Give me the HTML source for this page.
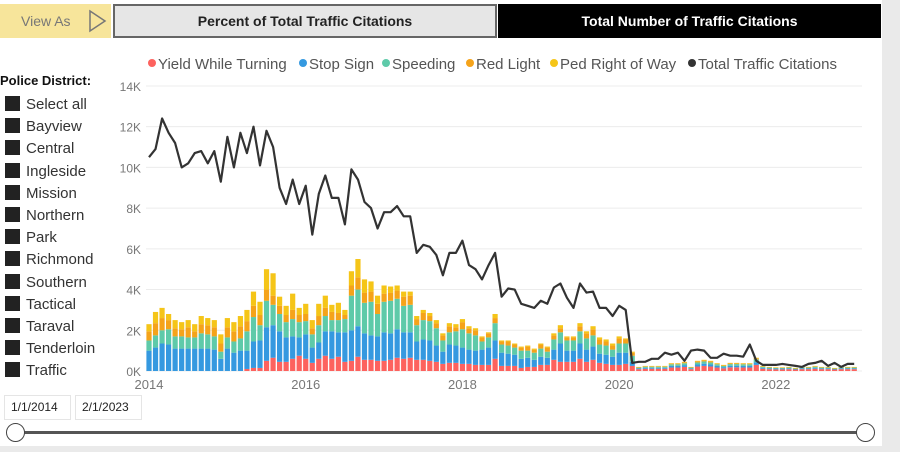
<!DOCTYPE html>
<html><head><meta charset="utf-8"><style>
body{margin:0;width:900px;height:452px;overflow:hidden;background:#fff;font-family:"Liberation Sans",sans-serif;position:relative}
.abs{position:absolute}
.li{position:absolute;left:5px;font-size:15px;color:#333;height:18px;line-height:18px}
.li span{display:inline-block;width:15px;height:15px;background:#222;vertical-align:-2px;margin-right:6px}
</style></head><body>
<div class="abs" style="left:882px;top:0;width:18px;height:452px;background:#eaeaea"></div>
<div class="abs" style="left:0;top:446px;width:900px;height:6px;background:#eaeaea"></div>
<div class="abs" style="left:0;top:4px;width:111px;height:34px;background:#f7e59b;color:#777;font-size:14px">
<span style="position:absolute;left:21px;top:9px">View As</span>
<svg style="position:absolute;left:88px;top:5px" width="20" height="24"><polygon points="2,2 17,12 2,22" fill="none" stroke="#777" stroke-width="1.5"/></svg></div>
<div class="abs" style="left:113px;top:4px;width:380px;height:30px;background:#e6e6e6;border:2px solid #666;text-align:center;line-height:30px;font-weight:bold;font-size:14px;color:#222">Percent of Total Traffic Citations</div>
<div class="abs" style="left:498px;top:4px;width:383px;height:34px;background:#000;text-align:center;line-height:34px;font-weight:bold;font-size:14px;color:#fff">Total Number of Traffic Citations</div>
<div class="abs" style="left:0;top:73px;font-size:13px;font-weight:bold;color:#111">Police District:</div>
<div id="slicer"></div>
<div class="abs" style="left:4px;top:395px;width:65px;height:23px;border:1px solid #e5e5e5;font-size:12px;line-height:23px;text-indent:6px;color:#222">1/1/2014</div>
<div class="abs" style="left:75px;top:395px;width:65px;height:23px;border:1px solid #e5e5e5;font-size:12px;line-height:23px;text-indent:6px;color:#222">2/1/2023</div>
<div class="abs" style="left:16px;top:431px;width:850px;height:3px;background:#555"></div>
<div class="abs" style="left:6px;top:423px;width:17px;height:17px;border:1.5px solid #444;border-radius:50%;background:#fff"></div>
<div class="abs" style="left:856px;top:423px;width:17px;height:17px;border:1.5px solid #444;border-radius:50%;background:#fff"></div>
<svg id="chart" class="abs" style="left:0;top:0" width="900" height="452"></svg>
<script>
const districts=["Select all","Bayview","Central","Ingleside","Mission","Northern","Park","Richmond","Southern","Tactical","Taraval","Tenderloin","Traffic"];
const seriesNames=["Yield While Turning","Stop Sign","Speeding","Red Light","Ped Right of Way","Total Traffic Citations"];
const seriesColors=["#fd625e","#3599e0","#5ecaa9","#f5a31a","#f5c518","#333333"];
const yTicks=[0,2,4,6,8,10,12,14];
const xTickLabels=["2014","2016","2018","2020","2022"];
const xTickIndex=[0,24,48,72,96];
const total=[10.5,10.9,12.4,11.7,11.2,10.0,10.2,10.7,10.8,10.2,10.8,9.3,11.5,10.0,11.7,10.7,12.0,10.1,11.8,11.0,9.0,8.2,9.4,8.2,9.1,6.7,8.7,9.6,8.5,8.5,7.2,9.9,9.4,8.3,8.0,7.0,7.8,7.8,8.1,7.6,7.6,5.8,6.2,6.1,5.7,4.7,5.8,5.8,6.4,5.2,5.0,4.5,5.2,5.8,3.65,4.05,4.0,3.3,3.2,3.1,3.45,3.3,4.1,4.3,3.6,3.1,4.3,3.85,3.9,3.1,3.1,2.7,3.2,3.0,0.4,0.45,0.45,0.6,0.6,0.9,0.8,0.9,0.5,1.0,1.05,1.0,0.65,0.65,0.85,0.75,0.75,0.7,1.3,0.5,0.3,0.3,0.3,0.35,0.3,0.25,0.2,0.35,0.4,0.5,0.25,0.4,0.2,0.35,0.35];
const yieldTurning=[0,0,0,0,0,0,0,0,0,0,0,0,0,0,0,0.1,0.15,0.15,0.5,0.65,0.45,0.45,0.6,0.75,0.6,0.4,0.6,0.75,0.6,0.7,0.45,0.5,0.7,0.55,0.55,0.5,0.5,0.55,0.65,0.6,0.65,0.55,0.55,0.5,0.45,0.35,0.4,0.4,0.35,0.35,0.3,0.3,0.3,0.6,0.25,0.25,0.25,0.15,0.2,0.2,0.3,0.3,0.55,0.45,0.45,0.45,0.6,0.45,0.55,0.4,0.35,0.3,0.3,0.35,0.25,
0.09,0.11,0.11,0.11,0.11,0.17,0.17,0.2,0.09,0.22,0.25,0.22,0.17,0.13,0.18,0.18,0.17,0.17,0.3,0.11,0.09,0.08,0.08,0.09,0.07,0.09,0.09,0.11,0.09,0.09,0.07,0.09,0.09,0.09];
const stopSign=[1.0,1.15,1.35,1.3,1.1,1.1,1.1,1.1,1.1,1.1,1.05,0.6,1.1,0.9,1.0,0.9,1.3,1.35,1.65,1.6,1.5,1.2,1.1,0.9,1.2,0.75,0.8,1.2,1.35,1.2,1.45,1.5,1.5,1.3,1.2,1.2,1.4,1.3,1.4,1.3,1.25,0.9,1.0,1.0,0.8,0.6,0.9,0.85,0.8,0.7,0.7,0.75,0.85,0.9,0.65,0.6,0.55,0.45,0.45,0.35,0.4,0.35,0.5,0.9,0.55,0.55,0.75,0.6,0.65,0.45,0.45,0.4,0.6,0.55,0.2,
0.04,0.05,0.05,0.05,0.05,0.08,0.08,0.09,0.04,0.1,0.11,0.1,0.08,0.06,0.08,0.08,0.08,0.08,0.12,0.05,0.04,0.04,0.04,0.04,0.03,0.04,0.04,0.05,0.04,0.04,0.03,0.04,0.04,0.04];
const speeding=[0.5,0.6,0.65,0.75,0.6,0.6,0.55,0.55,0.75,0.7,0.65,0.35,0.55,0.55,0.6,0.95,1.2,0.75,1.3,1.0,0.85,0.75,0.85,0.75,0.65,0.65,0.85,0.75,0.55,0.6,0.65,1.7,1.8,1.5,1.65,1.1,1.5,1.6,1.5,1.3,1.35,0.8,0.95,0.95,0.85,0.55,0.6,0.7,0.9,0.8,0.75,0.4,0.5,0.85,0.4,0.4,0.35,0.4,0.35,0.35,0.4,0.3,0.5,0.55,0.5,0.5,0.6,0.55,0.55,0.45,0.45,0.35,0.45,0.45,0.3,
0.04,0.05,0.05,0.05,0.05,0.08,0.08,0.09,0.04,0.1,0.11,0.1,0.08,0.06,0.08,0.08,0.08,0.08,0.15,0.05,0.04,0.04,0.04,0.04,0.03,0.04,0.04,0.05,0.04,0.04,0.03,0.04,0.04,0.04];
const redLight=[0.45,0.6,0.6,0.45,0.4,0.35,0.5,0.3,0.45,0.45,0.45,0.4,0.5,0.5,0.6,0.5,0.55,0.5,0.55,0.45,0.4,0.35,0.45,0.35,0.35,0.3,0.45,0.4,0.4,0.35,0.2,0.5,0.6,0.5,0.5,0.5,0.4,0.4,0.4,0.45,0.45,0.3,0.35,0.25,0.25,0.25,0.3,0.2,0.35,0.25,0.25,0.2,0.2,0.25,0.15,0.2,0.15,0.15,0.2,0.15,0.2,0.2,0.2,0.2,0.15,0.15,0.25,0.25,0.3,0.25,0.2,0.2,0.25,0.2,0.15,
0.02,0.03,0.03,0.03,0.03,0.04,0.04,0.05,0.02,0.06,0.06,0.06,0.04,0.04,0.04,0.04,0.04,0.04,0.05,0.03,0.02,0.01,0.01,0.02,0.01,0.02,0.02,0.03,0.02,0.02,0.01,0.02,0.02,0.02];
const pedRightOfWay=[0.35,0.55,0.5,0.3,0.4,0.35,0.35,0.35,0.4,0.35,0.35,0.45,0.45,0.45,0.5,0.55,0.7,0.65,1.0,1.1,0.45,0.45,0.8,0.35,0.5,0.4,0.6,0.6,0.35,0.5,0.25,0.7,0.9,0.65,0.5,0.4,0.4,0.3,0.25,0.25,0.2,0.15,0.15,0.15,0.15,0.1,0.15,0.15,0.15,0.1,0.1,0.05,0.05,0.2,0.05,0.05,0.05,0.05,0.05,0.05,0.05,0.05,0.1,0.15,0.05,0.05,0.15,0.1,0.15,0.1,0.1,0.1,0.1,0.05,0.05,
0.01,0.01,0.01,0.01,0.01,0.01,0.01,0.02,0.01,0.02,0.02,0.02,0.01,0.01,0.02,0.02,0.01,0.01,0.03,0.01,0.01,0.01,0.01,0.01,0.01,0.01,0.01,0.01,0.01,0.01,0.01,0.01,0.01,0.01];

const NS="http://www.w3.org/2000/svg";
const svg=document.getElementById('chart');
const X0=149,DX=6.53,Y0=371,PXK=20.36;
function xs(i){return X0+i*DX;}
function ys(v){return Y0-v*PXK;}
function mk(tag,attrs,parent){const e=document.createElementNS(NS,tag);for(const k in attrs)e.setAttribute(k,attrs[k]);(parent||svg).appendChild(e);return e;}

// slicer
const sl=document.getElementById('slicer');
districts.forEach((d,i)=>{const el=document.createElement('div');el.className='li';el.style.top=(96+i*22.2)+'px';el.innerHTML='<span></span>'+d;


sl.appendChild(el);});

// grid + y labels
yTicks.forEach(v=>{
 const g=mk('line',{x1:146,x2:862,y1:ys(v),y2:ys(v),stroke:'#ececec','stroke-width':1});
 
 
 const t=mk('text',{x:141,y:ys(v)+5,'text-anchor':'end','font-size':12,fill:'#777','font-family':'Liberation Sans, sans-serif'});
 t.textContent=v+'K';
 
 
});
xTickLabels.forEach((l,j)=>{
 const t=mk('text',{x:xs(xTickIndex[j]),y:389,'text-anchor':'middle','font-size':13,fill:'#777','font-family':'Liberation Sans, sans-serif'});
 t.textContent=l;
 
 
});
// bars
const stacks=[yieldTurning,stopSign,speeding,redLight,pedRightOfWay];
const keys=['yield','stop-sign','speeding','red-light','ped-right-of-way'];
for(let i=0;i<total.length;i++){
 let acc=0;
 stacks.forEach((arr,s)=>{const v=arr[i]||0;if(v<=0)return;
  const r=mk('rect',{x:xs(i)-2.6,y:ys(acc+v),width:5.2,height:Math.max(0.5,ys(acc)-ys(acc+v)),fill:seriesColors[s]});
  
  
  acc+=v;});
}
// line
const pts=total.map((v,i)=>xs(i).toFixed(1)+','+ys(v).toFixed(1)).join(' ');
const ln=mk('polyline',{points:pts,fill:'none',stroke:'#333','stroke-width':2.2,'stroke-linejoin':'round'});


// legend
const legX=[148,299,382,466,550,688];
seriesNames.forEach((n,s)=>{
 const c=mk('circle',{cx:legX[s]+4,cy:63,r:4,fill:seriesColors[s]});
 
 
 const t=mk('text',{x:legX[s]+10,y:69,'font-size':15,fill:'#555','font-family':'Liberation Sans, sans-serif'});
 t.textContent=n;
 
 
});
</script>
</body></html>
